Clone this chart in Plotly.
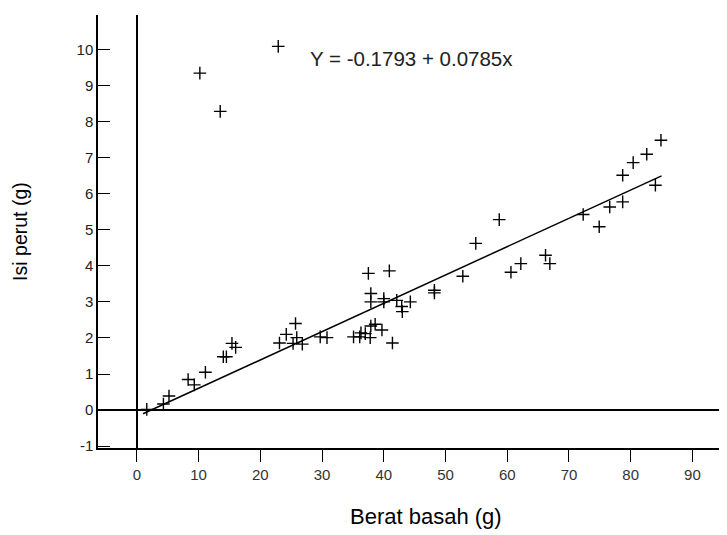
import plotly.graph_objects as go

# Data
berat_basah = [1.6, 4.3, 5.2, 8.3, 9.3, 11.1, 14.0, 14.5, 15.4, 16.0,
               23.1, 24.2, 25.7, 25.9, 25.3, 26.8, 29.7, 30.8,
               35.1, 36.1, 36.3, 37.0, 37.8, 37.9, 38.6, 39.7, 41.4,
               37.5, 40.9, 37.9, 37.9, 40.0, 40.0, 42.1, 42.9, 43.0, 44.3,
               48.2, 48.2, 52.8, 54.9, 58.7, 60.6, 62.2, 66.2, 66.9,
               72.3, 74.9, 76.6, 78.7, 78.7, 80.4, 82.6, 84.9, 84.0,
               22.9, 10.2, 13.5]
isi_perut = [0.02, 0.17, 0.39, 0.85, 0.70, 1.05, 1.48, 1.48, 1.85, 1.74,
             1.86, 2.10, 2.40, 2.01, 1.85, 1.83, 2.03, 2.01,
             2.03, 2.03, 2.14, 2.12, 2.01, 2.33, 2.38, 2.22, 1.86,
             3.79, 3.86, 3.23, 3.00, 3.09, 3.00, 3.04, 2.87, 2.73, 3.00,
             3.32, 3.25, 3.71, 4.62, 5.28, 3.82, 4.06, 4.29, 4.06,
             5.42, 5.08, 5.63, 5.77, 6.51, 6.86, 7.09, 7.48, 6.23,
             10.08, 9.34, 8.28]

intercept = -0.1793
slope = 0.0785
fit_x = [1, 85]
fit_y = [intercept + slope * v for v in fit_x]

x_ticks = [0, 10, 20, 30, 40, 50, 60, 70, 80, 90]
x_labels = ["0", "10", "20", "30", "40", "50", "60", "70", "80", "90"]
y_ticks = [-1, 0, 1, 2, 3, 4, 5, 6, 7, 8, 9, 10]
y_labels = ["-1", "0", "1", "2", "3", "4", "5", "6", "7", "8", "9", "10"]

FONT = "Liberation Sans, Arial"

fig = go.Figure()
fig.add_trace(go.Scatter(
    x=fit_x, y=fit_y, mode="lines",
    line=dict(color="black", width=1.5), showlegend=False, hoverinfo="skip"))
fig.add_trace(go.Scatter(
    x=berat_basah, y=isi_perut, mode="markers",
    marker=dict(symbol="cross-thin", size=9, line=dict(color="black", width=1.4)),
    showlegend=False))

fig.add_annotation(x=27.7, y=9.75, xref="x", yref="y", xanchor="left", yanchor="middle",
                   text="Y = -0.1793 + 0.0785x", showarrow=False,
                   font=dict(family=FONT, size=20.5, color="#222"))
fig.add_annotation(x=0.521, y=-0.159, xref="paper", yref="paper",
                   text="Berat basah (g)", showarrow=False, xanchor="center", yanchor="middle",
                   font=dict(family=FONT, size=22, color="black"))
fig.add_annotation(x=-0.125, y=0.5, xref="paper", yref="paper",
                   text="Isi perut (g)", showarrow=False, xanchor="center", yanchor="middle",
                   textangle=-90, font=dict(family=FONT, size=19.5, color="black"))

fig.update_xaxes(range=[-6.3, 95.6], tickvals=x_ticks, ticktext=x_labels,
                 ticks="outside", ticklen=12, automargin=False,
                 tickwidth=1.2, tickcolor="black", showline=True, linecolor="black",
                 linewidth=1.5, showgrid=False, zeroline=True, zerolinecolor="black",
                 zerolinewidth=1.5,
                 tickfont=dict(family=FONT, size=15, color="#333"))
fig.update_yaxes(range=[-1.05, 10.95], tickvals=y_ticks, ticktext=y_labels,
                 ticks="inside", ticklen=12, automargin=False,
                 tickwidth=1.2, tickcolor="black", showline=True, linecolor="black",
                 linewidth=1.5, showgrid=False, zeroline=True, zerolinecolor="black",
                 zerolinewidth=1.5,
                 tickfont=dict(family=FONT, size=15, color="#222"))

# the page body adds an 8px offset; margins compensate so the plot lands where the reference has it
fig.update_layout(width=727, height=535, margin=dict(l=90, r=8, t=7, b=95),
                  plot_bgcolor="white", paper_bgcolor="white")
fig.write_html("out.html")
